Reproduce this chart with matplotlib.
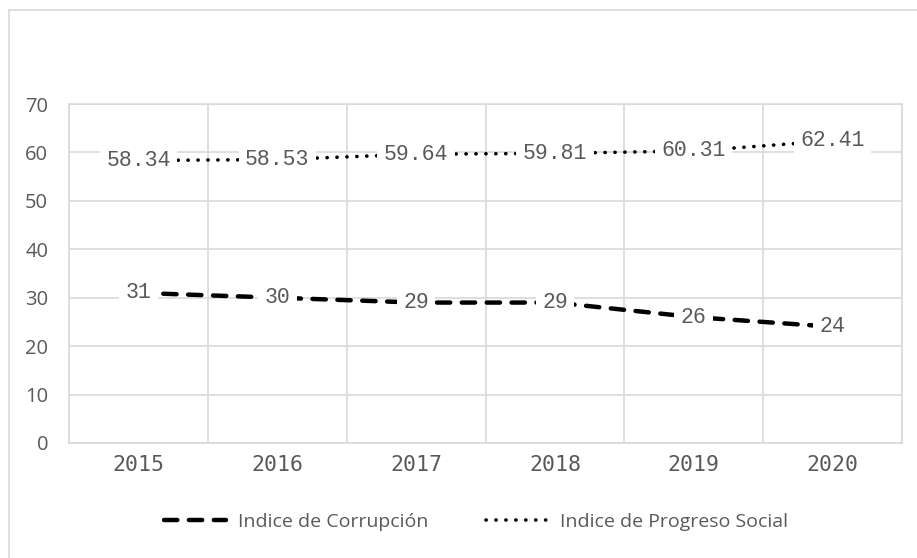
import matplotlib.pyplot as plt
from matplotlib.patches import Rectangle

# data
years = ['2015', '2016', '2017', '2018', '2019', '2020']
corrupcion = [31, 30, 29, 29, 26, 24]
progreso = [58.34, 58.53, 59.64, 59.81, 60.31, 62.41]
corrupcion_labels = ['31', '30', '29', '29', '26', '24']
progreso_labels = ['58.34', '58.53', '59.64', '59.81', '60.31', '62.41']
yticks = [0, 10, 20, 30, 40, 50, 60, 70]

grid_col = '#d9d9d9'
text_col = '#595959'

fig = plt.figure(figsize=(9.17, 5.58), dpi=100)
ax = fig.add_axes([0.0752, 0.2061, 0.9085, 0.6075])

# outer chart border (only left/top visible in the crop)
fig.patches.append(Rectangle((9 / 917, -0.1), 1.1, 1 - 10 / 558 + 0.1,
                             transform=fig.transFigure, fill=False,
                             edgecolor=grid_col, lw=1.2))

x = list(range(len(years)))
ax.plot(x, corrupcion, color='black', lw=3.2, dashes=(3.0, 2.6),
        dash_capstyle='round', label='Indice de Corrupción', zorder=3)
ax.plot(x, progreso, color='black', lw=2.6, dashes=(0.05, 2.7),
        dash_capstyle='round', label='Indice de Progreso Social', zorder=3)

box = dict(boxstyle='square,pad=0.3', facecolor='white', edgecolor='none')
for xi, v, s in zip(x, corrupcion, corrupcion_labels):
    ax.text(xi, v, s, ha='center', va='center', family='Liberation Mono',
            fontsize=15.5, color=text_col, bbox=box, zorder=4)
for xi, v, s in zip(x, progreso, progreso_labels):
    ax.text(xi, v, s, ha='center', va='center', family='Liberation Mono',
            fontsize=15.5, color=text_col, bbox=box, zorder=4)

ax.set_xlim(-0.5, 5.5)
ax.set_ylim(0, 70)
ax.set_yticks(yticks)
ax.set_xticks(x)
ax.set_xticklabels(years, family='DejaVu Sans Mono', fontsize=15.5)
ax.set_yticklabels([str(t) for t in yticks], family='Open Sans', fontsize=14.5)
ax.set_xticks([i + 0.5 for i in range(-1, 6)], minor=True)
ax.tick_params(axis='both', which='both', length=0, colors=text_col)
ax.tick_params(axis='x', pad=9)
ax.tick_params(axis='y', pad=15)
ax.grid(True, which='major', axis='y', color=grid_col, lw=1.2)
ax.grid(True, which='minor', axis='x', color=grid_col, lw=1.2)
ax.set_axisbelow(True)
for sp in ax.spines.values():
    sp.set_color(grid_col)
    sp.set_linewidth(1.2)

fig.legend(loc='center', bbox_to_anchor=(0.519, 0.0645), ncol=2, frameon=False,
           prop={'family': 'Open Sans', 'size': 14}, labelcolor=text_col,
           handlelength=3.2, columnspacing=3.0, handletextpad=0.6)

fig.savefig('out.png', dpi=100)
